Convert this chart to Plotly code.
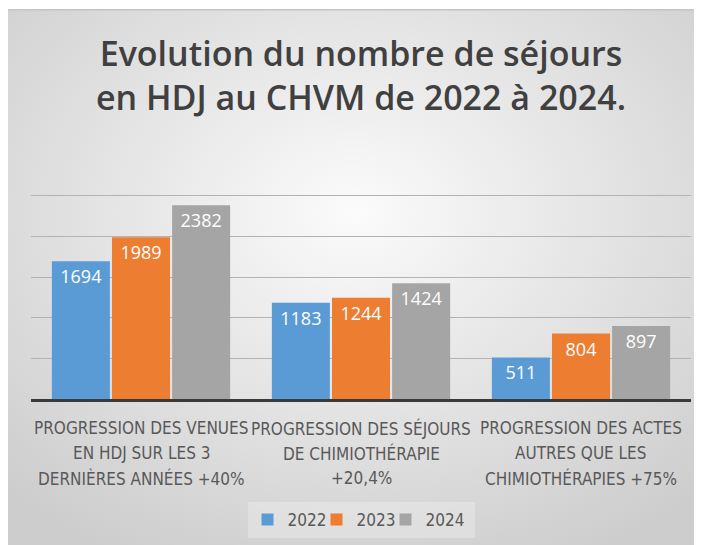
import base64
import plotly.graph_objects as go

# Catégories (libellés de l'axe, sur trois lignes)
label_lines = [
    ["PROGRESSION DES VENUES", "EN HDJ SUR LES 3", "DERNIÈRES ANNÉES +40%"],
    ["PROGRESSION DES SÉJOURS", "DE CHIMIOTHÉRAPIE", "+20,4%"],
    ["PROGRESSION DES ACTES", "AUTRES QUE LES", "CHIMIOTHÉRAPIES +75%"],
]
categories = [" ".join(l) for l in label_lines]
years = ["2022", "2023", "2024"]
values_2022 = [1694, 1183, 511]
values_2023 = [1989, 1244, 804]
values_2024 = [2382, 1424, 897]

series = [values_2022, values_2023, values_2024]
colors = ["#5B9BD5", "#ED7D31", "#A5A5A5"]

# la page a une marge de 8 px : la figure fait 694x537
W, H = 694, 537
L, R, T, B = 23, 11, 147, 146
LABEL_FONT = "DejaVu Sans Condensed, Roboto, sans-serif"

# fond dégradé façon Excel (image SVG en data URI)
svg = (
    '<svg xmlns="http://www.w3.org/2000/svg" width="695" height="536" preserveAspectRatio="none">'
    '<defs><radialGradient id="g" cx="50%" cy="38%" r="72%">'
    '<stop offset="0" stop-color="#fbfbfb"/><stop offset="1" stop-color="#cdcdcd"/>'
    '</radialGradient></defs>'
    '<rect width="100%" height="100%" fill="url(#g)"/>'
    '<rect x="0" y="0" width="100%" height="1.5" fill="#c4c4c4"/>'
    '<rect x="0" y="0" width="1" height="100%" fill="#dadada"/>'
    '</svg>'
)
bg_src = "data:image/svg+xml;base64," + base64.b64encode(svg.encode()).decode()

pw, ph = W - L - R, H - T - B
card_x0, card_y0 = -1, 1

fig = go.Figure()
for k, (yr, vals, col) in enumerate(zip(years, series, colors)):
    fig.add_trace(go.Bar(
        x=categories, y=vals, name=yr,
        marker=dict(color=col, line=dict(width=0)),
        texttemplate="%{y}", textposition="inside", insidetextanchor="end",
        textangle=0, constraintext="none",
        textfont=dict(family="Open Sans", size=18, color="white"),
        legendwidth=24 if k < len(years) - 1 else 44,
    ))

# libellés de catégories, une annotation par ligne (interligne ~25 px)
for cat, lines in zip(categories, label_lines):
    for i, line in enumerate(lines):
        fig.add_annotation(
            x=cat, xref="x", y=-(29 + 25 * i) / ph, yref="paper",
            text=line, showarrow=False, xanchor="center", yanchor="middle",
            font=dict(family=LABEL_FONT, size=17, color="#595959"),
        )

fig.update_layout(
    width=W, height=H,
    margin=dict(l=L, r=R, t=T, b=B, autoexpand=False),
    paper_bgcolor="white",
    plot_bgcolor="rgba(0,0,0,0)",
    barmode="group", bargap=0.18, bargroupgap=0.035,
    title=dict(
        text="Evolution du nombre de séjours<br>en HDJ au CHVM de 2022 à 2024.",
        x=0.5, xref="paper", xanchor="center",
        y=1 - 58 / H, yref="container", yanchor="middle",
        font=dict(family="Open Sans", size=34, weight=600, color="#404040"),
    ),
    showlegend=True,
    legend=dict(
        orientation="h", x=0.5, xanchor="center",
        y=(391 - 512) / ph, yanchor="middle",
        font=dict(family=LABEL_FONT, size=17, color="#595959"),
        bgcolor="rgba(255,255,255,0.25)", itemwidth=30,
    ),
    images=[dict(
        source=bg_src, xref="paper", yref="paper",
        x=(card_x0 - L) / pw, y=1 + (T - card_y0) / ph,
        sizex=(W - card_x0) / pw, sizey=(H - card_y0) / ph,
        xanchor="left", yanchor="top", sizing="stretch", layer="below",
    )],
)

fig.update_xaxes(
    showline=True, linecolor="#3a3a3a", linewidth=3,
    ticks="", showticklabels=False, automargin=False,
)
fig.update_yaxes(
    range=[0, 3000], dtick=500, showticklabels=False, automargin=False,
    showgrid=True, gridcolor="#b3b3b3", gridwidth=1, zeroline=False,
)

fig.write_html("out.html")
